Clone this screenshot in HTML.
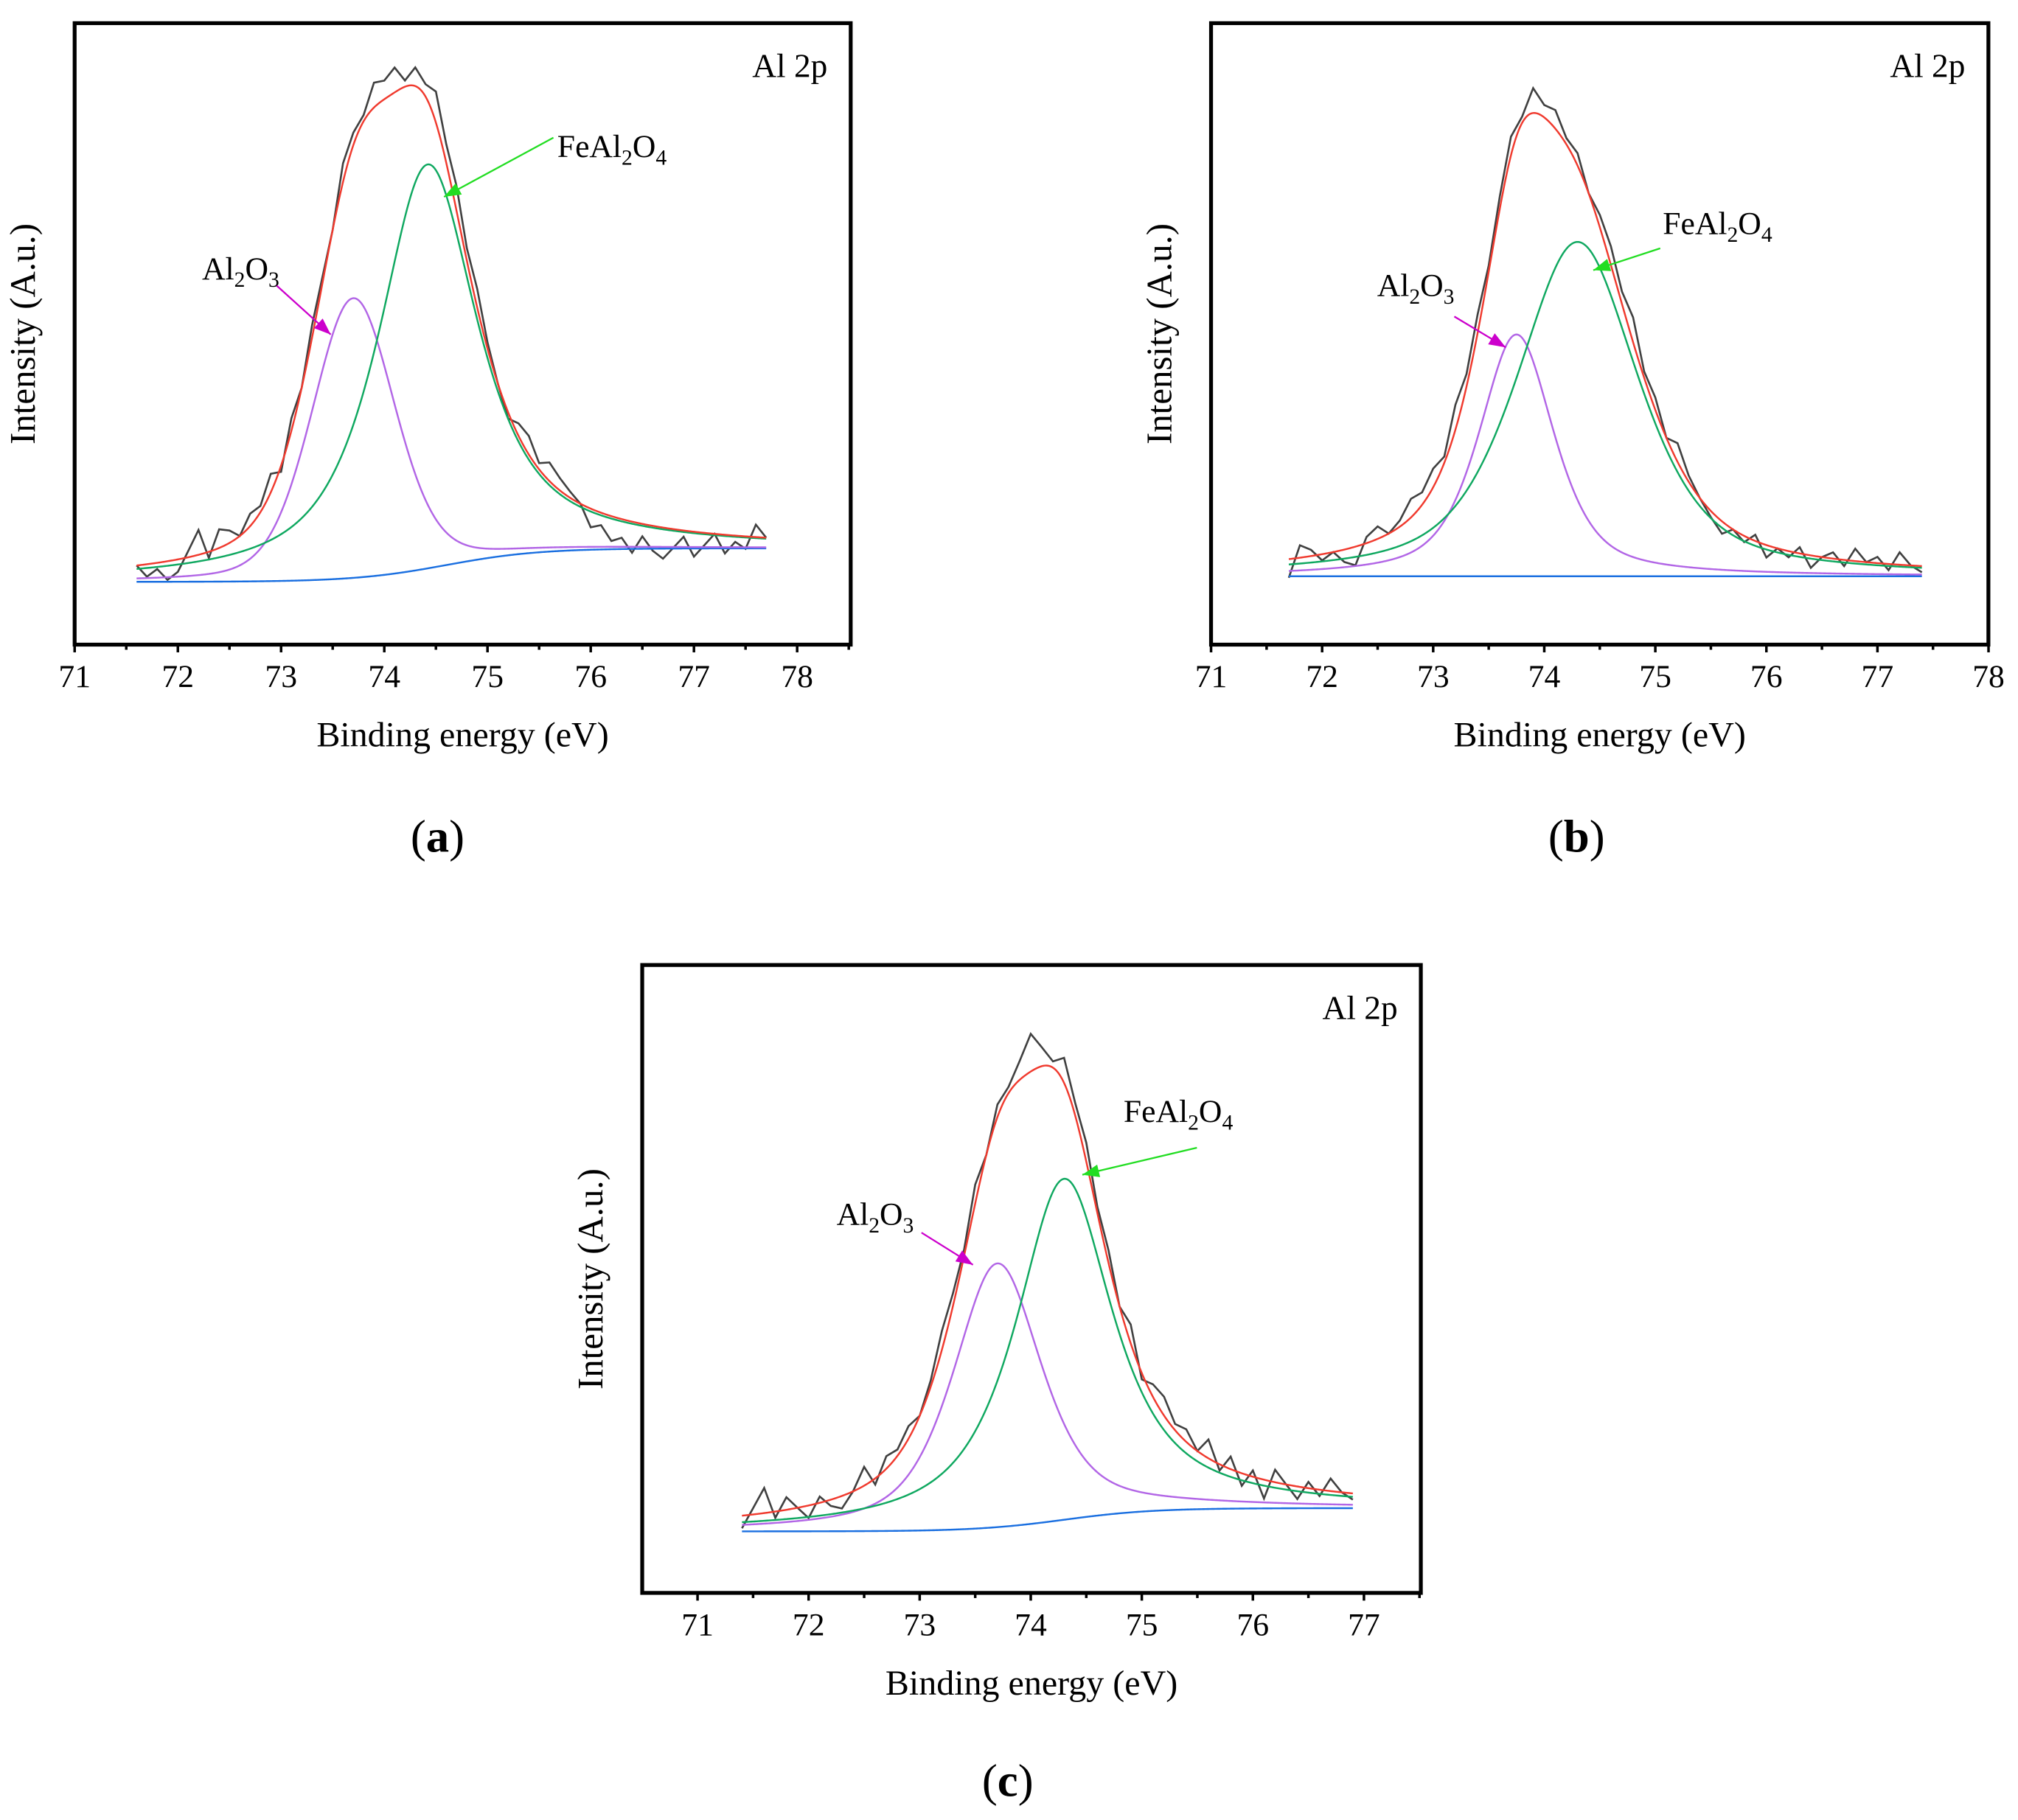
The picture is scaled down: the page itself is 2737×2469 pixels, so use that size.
<!DOCTYPE html>
<html><head><meta charset="utf-8"><style>
html,body{margin:0;padding:0;background:#fff}
svg{display:block}
text{font-family:"Liberation Serif",serif;fill:#000}
</style></head><body>
<svg id="fig" xmlns="http://www.w3.org/2000/svg" width="2737" height="2469" viewBox="0 0 1568 1414.5" preserveAspectRatio="none"></svg>
<script>
// ---- data (binding energy eV / intensity a.u. 0..100) ----
const xTicksA = [71,72,73,74,75,76,77,78];
const xTicksC = [71,72,73,74,75,76,77];
// component peaks: [Al2O3, FeAl2O4]
const aCenters = [73.7, 74.42];
const aHeights = [45, 65];
const aFwhm = [0.95, 1.15];
const aEta = [0.25, 0.8];
const aBaseline = [10.1, 15.5, 74.6, 0.45]; // low, high, center, width
const aRange = [71.6, 77.7];
const aResidual = [0,-2,-1,-3,-2,1,4,-1,3,2, 0,2,1,3,-1,2,0,2,1,0, 3,2,1,4,3,4,1,3,2,5, 3,4,2,3,1,0,-1,2,3,1, 3,2,1,0,-3,-2,-4,-3,-5,-2, -4,-5,-3,-1,-4,-2,0,-3,-1,-2, 2,0];

const bCenters = [73.75, 74.3];
const bHeights = [38.9, 53.8];
const bFwhm = [0.8, 1.3];
const bEta = [0.6, 0.6];
const bBaseline = [11.0, 11.0, 74.5, 0.5];
const bRange = [71.7, 77.4];
const bResidual = [-3,2,1,-1,0,-2,-3,1,2,0, 1,3,2,3,1,4,2,3,1,2, 3,1,4,2,3,1,2,0,2,3, 2,4,1,2,0,3,1,0,-1,-2, 0,-1,1,-2,0,-1,1,-2,0,1, -1,2,0,1,-1,2,0,-1];

const cCenters = [73.7, 74.3];
const cHeights = [42, 54.3];
const cFwhm = [0.95, 1.05];
const cEta = [0.6, 0.85];
const cBaseline = [9.8, 13.5, 74.3, 0.4];
const cRange = [71.4, 76.9];
const cResidual = [-2,1,4,-1,2,0,-2,1,-1,-2, 0,3,-1,2,1,2,0,1,3,2, 1,3,0,2,1,3,6,3,1,4, 2,3,1,2,0,3,-1,2,3,1, 2,0,3,-1,2,-2,1,-3,2,0, -2,1,-1,2,0,-1];

const NS = "http://www.w3.org/2000/svg";
const svg = document.getElementById('fig');
function mk(tag, attrs, parent){const e=document.createElementNS(NS,tag);for(const k in attrs)e.setAttribute(k,attrs[k]);(parent||svg).appendChild(e);return e;}

function pv(x,c,h,w,eta){const d=(x-c)/w;return h*(eta/(1+4*d*d)+(1-eta)*Math.exp(-4*Math.LN2*d*d));}
function base(x,b){return b[0]+(b[1]-b[0])/(1+Math.exp(-(x-b[2])/b[3]));}

function panel(p){
  const g=mk('g',{});
  
  
  const X=v=>p.x0+(v-p.d0)*p.ppe;
  const Y=v=>p.bottom-(v/100)*(p.bottom-p.top);
  const step=0.01;
  function line(fn,color,nm,sw){
    let d='';for(let x=p.range[0];x<=p.range[1]+1e-9;x+=step){d+=(d?'L':'M')+X(x).toFixed(2)+','+Y(fn(x)).toFixed(2);}
    const e=mk('path',{d:d,fill:'none',stroke:color,'stroke-width':sw||1.4},g);
    
    
  }
  const comp=(x,i)=>pv(x,p.c[i],p.h[i],p.w[i],p.eta[i]);
  const fit=x=>base(x,p.b)+comp(x,0)+comp(x,1);
  let d='';
  p.res.forEach((r,i)=>{const x=p.range[0]+i*0.1;d+=(d?'L':'M')+X(x).toFixed(2)+','+Y(fit(x)+r).toFixed(2);});
  const raw=mk('path',{d:d,fill:'none',stroke:'#404040','stroke-width':1.5},g);
  
  
  line(x=>base(x,p.b),'#1a6fe0','background-line');
  line(x=>base(x,p.b)+comp(x,0),'#b266e6','al2o3-peak-line');
  line(x=>base(x,p.b)+comp(x,1),'#0fa860','feal2o4-peak-line');
  line(fit,'#f03a2e','envelope-fit-line');
  const fr=mk('rect',{x:p.left,y:p.top,width:p.right-p.left,height:p.bottom-p.top,fill:'none',stroke:'#000','stroke-width':3},g);
  
  
  p.ticks.forEach(t=>{
    const tk=mk('line',{x1:X(t),x2:X(t),y1:p.bottom,y2:p.bottom+6,stroke:'#000','stroke-width':2},g);
    
    
    if(X(t+0.5)<p.right){const mt=mk('line',{x1:X(t+0.5),x2:X(t+0.5),y1:p.bottom,y2:p.bottom+4,stroke:'#000','stroke-width':2},g);
      
      }
    const tl=mk('text',{x:X(t),y:p.bottom+33,'text-anchor':'middle','font-size':25},g);
    tl.textContent=t;
    
    
  });
  if(X(p.ticks[0]-0.5)>p.left){const mt=mk('line',{x1:X(p.ticks[0]-0.5),x2:X(p.ticks[0]-0.5),y1:p.bottom,y2:p.bottom+4,stroke:'#000','stroke-width':2},g);
    
    }
  const xt=mk('text',{x:(p.left+p.right)/2,y:p.bottom+79,'text-anchor':'middle','font-size':27.5},g);
  xt.textContent='Binding energy (eV)';
  
  
  const cy=(p.top+p.bottom)/2;
  const yt=mk('text',{x:p.left-31,y:cy,'text-anchor':'middle','font-size':28,transform:`rotate(-90 ${p.left-31} ${cy})`},g);
  yt.textContent='Intensity (A.u.)';
  
  
  const al=mk('text',{x:p.right-18,y:p.top+42,'text-anchor':'end','font-size':26},g);
  al.textContent='Al 2p';
  
  
  function arrow(x1,y1,x2,y2,col,nm){
    const a=mk('line',{x1:x1,y1:y1,x2:x2,y2:y2,stroke:col,'stroke-width':1.3},g);
    
    
    const ang=Math.atan2(y2-y1,x2-x1),L=13,W=5;
    const bx=x2-L*Math.cos(ang),by=y2-L*Math.sin(ang);
    const h=mk('polygon',{points:`${x2},${y2} ${bx+W*Math.sin(ang)},${by-W*Math.cos(ang)} ${bx-W*Math.sin(ang)},${by+W*Math.cos(ang)}`,fill:col},g);
    
    
  }
  const fe=mk('text',{x:p.feT[0],y:p.feT[1],'font-size':25},g);
  fe.innerHTML='FeAl<tspan dy="6" font-size="17">2</tspan><tspan dy="-6">O</tspan><tspan dy="6" font-size="17">4</tspan>';
  
  
  arrow(p.feA[0],p.feA[1],p.feA[2],p.feA[3],'#22dd22','feal2o4-arrow');
  const ao=mk('text',{x:p.alT[0],y:p.alT[1],'font-size':25},g);
  ao.innerHTML='Al<tspan dy="6" font-size="17">2</tspan><tspan dy="-6">O</tspan><tspan dy="6" font-size="17">3</tspan>';
  
  
  arrow(p.alA[0],p.alA[1],p.alA[2],p.alA[3],'#cc00cc','al2o3-arrow');
  const pl=mk('text',{x:p.lab[0],y:p.lab[1],'text-anchor':'middle','font-size':36},g);
  pl.innerHTML='(<tspan font-weight="bold">'+p.letter+'</tspan>)';
  
  
}

panel({name:'panel-a',left:58,right:661,top:18,bottom:501,x0:58,d0:71,ppe:80.2,ticks:xTicksA,
  c:aCenters,h:aHeights,w:aFwhm,eta:aEta,b:aBaseline,range:aRange,res:aResidual,
  feT:[433,122],feA:[430,107,345,153],alT:[157,217],alA:[215,222,257,260],lab:[340,662],letter:'a'});
panel({name:'panel-b',left:941,right:1545,top:18,bottom:501,x0:941,d0:71,ppe:86.3,ticks:xTicksA,
  c:bCenters,h:bHeights,w:bFwhm,eta:bEta,b:bBaseline,range:bRange,res:bResidual,
  feT:[1292,182],feA:[1290,193,1238,210],alT:[1070,230],alA:[1130,246,1170,270],lab:[1225,662],letter:'b'});
panel({name:'panel-c',left:499,right:1104,top:750,bottom:1238,x0:542,d0:71,ppe:86.3,ticks:xTicksC,
  c:cCenters,h:cHeights,w:cFwhm,eta:cEta,b:cBaseline,range:cRange,res:cResidual,
  feT:[873,872],feA:[930,892,841,913],alT:[650,952],alA:[716,958,756,983],lab:[783,1396],letter:'c'});
</script>
</body></html>
